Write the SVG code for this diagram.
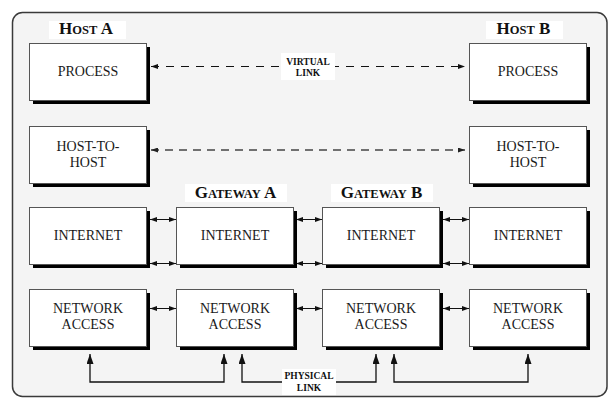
<svg xmlns="http://www.w3.org/2000/svg" width="610" height="399" viewBox="0 0 610 399">
  <defs>
    <style>
      .frame { fill: #f4f4f4; stroke: #3a3a3a; stroke-width: 1.5; }
      .shadow { fill: #000; }
      .box { fill: #fff; stroke: #555; stroke-width: 1; }
      .lbl { font-family: "Liberation Serif", "Times New Roman", serif; font-size: 14px; fill: #1a1a1a; text-anchor: middle; }
      .title { font-family: "Liberation Serif", "Times New Roman", serif; font-weight: bold; fill: #111; text-anchor: middle; font-size: 17px; }
      .title .sc { font-size: 12.5px; }
      .small { font-family: "Liberation Serif", "Times New Roman", serif; font-weight: bold; font-size: 9.5px; fill: #111; text-anchor: middle; }
      .tag { fill: #fff; }
      .virtual { fill: none; stroke: #111; stroke-width: 1; stroke-dasharray: 8 7; }
      .virtual2 { fill: none; stroke: #444; stroke-width: 1.3; stroke-dasharray: 8 6; }
      .link { fill: none; stroke: #111; stroke-width: 1; }
      .phys { fill: none; stroke: #111; stroke-width: 1.3; }
    </style>
    <marker id="head" viewBox="0 0 7 5" refX="7" refY="2.5" markerWidth="7" markerHeight="5" markerUnits="userSpaceOnUse" orient="auto-start-reverse">
      <path d="M0,0 L7,2.5 L0,5 z" fill="#111"/>
    </marker>
    <marker id="headgray" viewBox="0 0 7 5" refX="7" refY="2.5" markerWidth="7" markerHeight="5" markerUnits="userSpaceOnUse" orient="auto-start-reverse">
      <path d="M0,0 L7,2.5 L0,5 z" fill="#222"/>
    </marker>
    <marker id="up" viewBox="0 0 10 7" refX="10" refY="3.5" markerWidth="10" markerHeight="7" markerUnits="userSpaceOnUse" orient="auto-start-reverse">
      <path d="M0,0 L10,3.5 L0,7 z" fill="#111"/>
    </marker>
  </defs>

  <!-- outer frame -->
  <rect class="frame" x="12.5" y="12.5" width="594.5" height="384" rx="10" ry="10"/>

  <!-- column titles -->
  <g id="title-host-a">
    <rect class="tag" x="49" y="21" width="77" height="18"/>
    <text class="title" x="86" y="34">H<tspan class="sc">OST</tspan> A</text>
  </g>
  <g id="title-host-b">
    <rect class="tag" x="486" y="21" width="77" height="18"/>
    <text class="title" x="523.5" y="34">H<tspan class="sc">OST</tspan> B</text>
  </g>
  <g id="title-gateway-a">
    <rect class="tag" x="185" y="184" width="102" height="18"/>
    <text class="title" x="235.5" y="198">G<tspan class="sc">ATEWAY</tspan> A</text>
  </g>
  <g id="title-gateway-b">
    <rect class="tag" x="331" y="184" width="102" height="18"/>
    <text class="title" x="381.5" y="198">G<tspan class="sc">ATEWAY</tspan> B</text>
  </g>

  <!-- connectors -->
  <g id="connectors">
    <!-- virtual links between host layers -->
    <line class="virtual" x1="151" y1="66.5" x2="465" y2="66.5" marker-start="url(#head)" marker-end="url(#head)"/>
    <line class="virtual2" x1="151" y1="150" x2="465" y2="150" marker-start="url(#headgray)" marker-end="url(#headgray)"/>
    <!-- internet layer links -->
    <line class="link" x1="150" y1="219.5" x2="176" y2="219.5" marker-start="url(#head)" marker-end="url(#head)"/>
    <line class="link" x1="150" y1="263.5" x2="176" y2="263.5" marker-start="url(#head)" marker-end="url(#head)"/>
    <line class="link" x1="296" y1="219.5" x2="322" y2="219.5" marker-start="url(#head)" marker-end="url(#head)"/>
    <line class="link" x1="296" y1="263.5" x2="322" y2="263.5" marker-start="url(#head)" marker-end="url(#head)"/>
    <line class="link" x1="443" y1="219.5" x2="469" y2="219.5" marker-start="url(#head)" marker-end="url(#head)"/>
    <line class="link" x1="443" y1="263.5" x2="469" y2="263.5" marker-start="url(#head)" marker-end="url(#head)"/>
    <!-- network access layer links -->
    <line class="link" x1="150" y1="308.5" x2="176" y2="308.5" marker-start="url(#head)" marker-end="url(#head)"/>
    <line class="link" x1="296" y1="308.5" x2="322" y2="308.5" marker-start="url(#head)" marker-end="url(#head)"/>
    <line class="link" x1="443" y1="308.5" x2="469" y2="308.5" marker-start="url(#head)" marker-end="url(#head)"/>
    <!-- physical links -->
    <path class="phys" d="M90,354 V382 H224 V354" marker-start="url(#up)" marker-end="url(#up)"/>
    <path class="phys" d="M242,354 V382 H376 V354" marker-start="url(#up)" marker-end="url(#up)"/>
    <path class="phys" d="M394,354 V382 H528 V354" marker-start="url(#up)" marker-end="url(#up)"/>
    <!-- link captions -->
    <rect class="tag" x="281" y="53" width="54" height="27"/>
    <text class="small" x="308" y="65">VIRTUAL</text>
    <text class="small" x="308" y="76">LINK</text>
    <rect class="tag" x="282" y="369" width="54" height="26"/>
    <text class="small" x="309" y="379">PHYSICAL</text>
    <text class="small" x="309" y="391">LINK</text>
  </g>

  <!-- Host A -->
  <g id="host-a-process">
    <rect class="shadow" x="33" y="47" width="117" height="57"/>
    <rect class="box" x="29.5" y="43.5" width="117" height="57"/>
    <text class="lbl" x="88" y="76">PROCESS</text>
  </g>
  <g id="host-a-host-to-host">
    <rect class="shadow" x="33" y="130" width="117" height="57"/>
    <rect class="box" x="29.5" y="126.5" width="117" height="57"/>
    <text class="lbl" x="88" y="151">HOST-TO-</text>
    <text class="lbl" x="88" y="167">HOST</text>
  </g>
  <g id="host-a-internet">
    <rect class="shadow" x="33" y="211" width="117" height="57"/>
    <rect class="box" x="29.5" y="207.5" width="117" height="57"/>
    <text class="lbl" x="88" y="240">INTERNET</text>
  </g>
  <g id="host-a-network-access">
    <rect class="shadow" x="33" y="293" width="117" height="57"/>
    <rect class="box" x="29.5" y="289.5" width="117" height="57"/>
    <text class="lbl" x="88" y="313">NETWORK</text>
    <text class="lbl" x="88" y="329">ACCESS</text>
  </g>

  <!-- Gateway A -->
  <g id="gateway-a-internet">
    <rect class="shadow" x="180" y="211" width="117" height="57"/>
    <rect class="box" x="176.5" y="207.5" width="117" height="57"/>
    <text class="lbl" x="235" y="240">INTERNET</text>
  </g>
  <g id="gateway-a-network-access">
    <rect class="shadow" x="180" y="293" width="117" height="57"/>
    <rect class="box" x="176.5" y="289.5" width="117" height="57"/>
    <text class="lbl" x="235" y="313">NETWORK</text>
    <text class="lbl" x="235" y="329">ACCESS</text>
  </g>

  <!-- Gateway B -->
  <g id="gateway-b-internet">
    <rect class="shadow" x="326" y="211" width="117" height="57"/>
    <rect class="box" x="322.5" y="207.5" width="117" height="57"/>
    <text class="lbl" x="381" y="240">INTERNET</text>
  </g>
  <g id="gateway-b-network-access">
    <rect class="shadow" x="326" y="293" width="117" height="57"/>
    <rect class="box" x="322.5" y="289.5" width="117" height="57"/>
    <text class="lbl" x="381" y="313">NETWORK</text>
    <text class="lbl" x="381" y="329">ACCESS</text>
  </g>

  <!-- Host B -->
  <g id="host-b-process">
    <rect class="shadow" x="473" y="47" width="117" height="57"/>
    <rect class="box" x="469.5" y="43.5" width="117" height="57"/>
    <text class="lbl" x="528" y="76">PROCESS</text>
  </g>
  <g id="host-b-host-to-host">
    <rect class="shadow" x="473" y="130" width="117" height="57"/>
    <rect class="box" x="469.5" y="126.5" width="117" height="57"/>
    <text class="lbl" x="528" y="151">HOST-TO-</text>
    <text class="lbl" x="528" y="167">HOST</text>
  </g>
  <g id="host-b-internet">
    <rect class="shadow" x="473" y="211" width="117" height="57"/>
    <rect class="box" x="469.5" y="207.5" width="117" height="57"/>
    <text class="lbl" x="528" y="240">INTERNET</text>
  </g>
  <g id="host-b-network-access">
    <rect class="shadow" x="473" y="293" width="117" height="57"/>
    <rect class="box" x="469.5" y="289.5" width="117" height="57"/>
    <text class="lbl" x="528" y="313">NETWORK</text>
    <text class="lbl" x="528" y="329">ACCESS</text>
  </g>
</svg>
